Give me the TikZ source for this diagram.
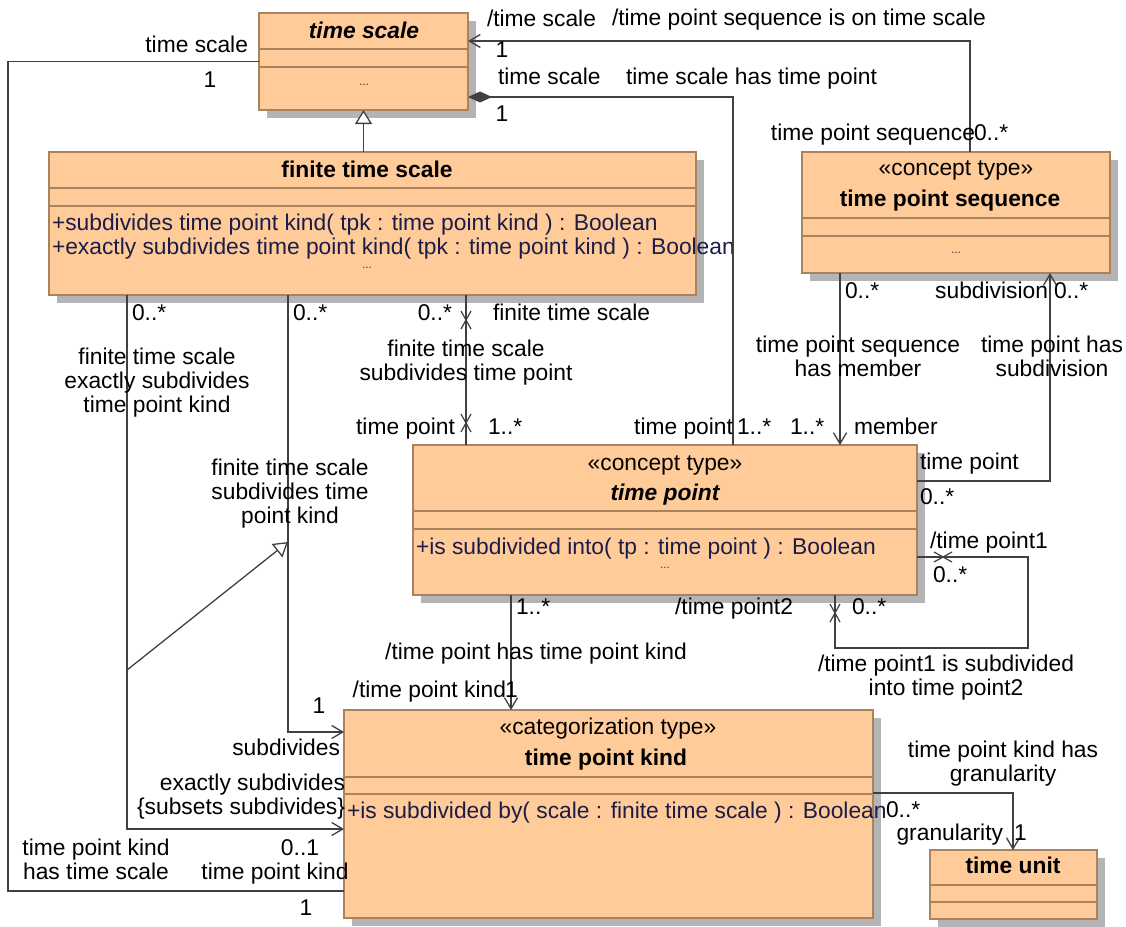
\documentclass[tikz,border=0pt]{standalone}
\usepackage{fontspec}
\setmainfont{Liberation Sans}
\usetikzlibrary{arrows.meta,shadows}
\definecolor{boxfill}{HTML}{FFCC99}
\definecolor{boxdraw}{HTML}{A8845E}
\definecolor{shadowc}{HTML}{B4B4B4}
\definecolor{linec}{HTML}{404040}
\definecolor{opc}{HTML}{1C1C48}
\newcommand{\fsz}{\fontsize{22.8}{24}\selectfont}
\begin{document}
\begin{tikzpicture}[x=1pt,y=-1pt,
  every node/.style={font=\fsz, inner sep=0pt, outer sep=0pt},
  cls/.style={draw=boxdraw, fill=boxfill, line width=1.5pt, anchor=north west,
    drop shadow={shadow xshift=8pt, shadow yshift=-8pt, fill=shadowc, opacity=1}},
  sepl/.style={draw=boxdraw, line width=1.5pt},
  lbl/.style={text height=15pt, text depth=1pt},
  ml/.style={align=center, anchor=north},
  optxt/.style={lbl, text=opc, anchor=west},
  dots/.style={font=\fontsize{12}{12}\selectfont, text=linec},
  assoc/.style={draw=linec, line width=1.3pt},
  nav/.style={assoc, -{Straight Barb[length=11pt,width=13pt]}},
  gen/.style={assoc, -{Triangle[open,length=14pt,width=17pt,fill=white]}},
  comp/.style={assoc, {Diamond[length=24pt,width=11pt,fill=linec]}-},
  xv/.pic={\draw[linec, line width=1.2pt] (-5pt,-9pt) -- (5pt,9pt) (-5pt,9pt) -- (5pt,-9pt);},
  xh/.pic={\draw[linec, line width=1.2pt] (-9pt,-5pt) -- (9pt,5pt) (-9pt,5pt) -- (9pt,-5pt);}
]
\useasboundingbox (0,0) rectangle (1126,926);

% ---------- classes ----------
\node[cls, minimum width=209pt, minimum height=97pt] (ts) at (259,13) {};
\draw[sepl] (259,49) -- (468,49) (259,67) -- (468,67);
\node[lbl, font=\fsz\bfseries\itshape] (tsT) at (364,31) {time scale};
\node[dots] (tsD) at (364,85) {...};

\node[cls, minimum width=647pt, minimum height=143pt] (fts) at (49,152) {};
\draw[sepl] (49,188) -- (696,188) (49,206) -- (696,206);
\node[lbl, font=\fsz\bfseries] (ftsT) at (367,170) {finite time scale};
\node[optxt] (ftsO1) at (52,223) {+subdivides time point kind( tpk : time point kind ) : Boolean};
\node[optxt] (ftsO2) at (52,247) {+exactly subdivides time point kind( tpk : time point kind ) : Boolean};
\node[dots] (ftsD) at (367,268) {...};

\node[cls, minimum width=308pt, minimum height=121pt] (tps) at (802,152) {};
\draw[sepl] (802,218) -- (1110,218) (802,236) -- (1110,236);
\node[lbl] (tpsS) at (956,168) {«concept type»};
\node[lbl, font=\fsz\bfseries] (tpsT) at (950,199) {time point sequence};
\node[dots] (tpsD) at (956,253) {...};

\node[cls, minimum width=504pt, minimum height=150pt] (tp) at (413,445) {};
\draw[sepl] (413,511) -- (917,511) (413,529) -- (917,529);
\node[lbl] (tpS) at (665,463) {«concept type»};
\node[lbl, font=\fsz\bfseries\itshape] (tpT) at (665,493) {time point};
\node[optxt] (tpO) at (416,547) {+is subdivided into( tp : time point ) : Boolean};
\node[dots] (tpD) at (665,568) {...};

\node[cls, minimum width=529pt, minimum height=208pt] (tpk) at (344,710) {};
\draw[sepl] (344,777) -- (873,777) (344,794) -- (873,794);
\node[lbl] (tpkS) at (608,727) {«categorization type»};
\node[lbl, font=\fsz\bfseries] (tpkT) at (606,758) {time point kind};
\node[optxt] (tpkO) at (347,811) {+is subdivided by( scale : finite time scale ) : Boolean};

\node[cls, minimum width=167pt, minimum height=69pt] (tu) at (930,850) {};
\draw[sepl] (930,885) -- (1097,885) (930,902) -- (1097,902);
\node[lbl, font=\fsz\bfseries] (tuT) at (1013,866) {time unit};

% ---------- connectors ----------
\draw[gen] (fts.north -| ts.south) -- (ts.south);
\draw[assoc] (ts.west) -| (8,891) -- (tpk.west |- 8,891);
\draw[nav] (tps.north -| 970,0) |- (ts.east |- 0,41);
\draw[comp] (ts.east |- 0,97) -| (tp.north -| 733,0);
\draw[assoc] (fts.south -| 466,0) -- (tp.north -| 466,0);
\pic at (466,320) {xv};
\pic at (466,423) {xv};
\draw[nav] (fts.south -| 288,0) |- (tpk.west |- 0,732);
\draw[nav] (fts.south -| 127,0) |- (tpk.west |- 0,829);
\coordinate (exa) at (127,670);
\coordinate (sub) at (288,542);
\draw[gen] (exa) -- (sub);
\draw[nav] (tp.south -| 511,0) -- (tpk.north -| 511,0);
\draw[nav] (tps.south -| 840,0) -- (tp.north -| 840,0);
\draw[nav] (tp.east |- 0,481) -| (tps.south -| 1050,0);
\draw[assoc] (tp.east |- 0,557) -| (1028,648) -| (tp.south -| 835,0);
\pic at (943,557) {xh};
\pic at (835,613) {xv};
\draw[nav] (tpk.east |- 0,793) -| (tu.north -| 1013,0);

% ---------- labels ----------
\node[lbl, anchor=east] (l1) at (248,45) {time scale};
\node[lbl] (l2) at (210,80) {1};
\node[lbl, anchor=west] (l3) at (487,20) {/time scale};
\node[lbl] (l4) at (502,50) {1};
\node[lbl, anchor=west] (l5) at (612,18) {/time point sequence is on time scale};
\node[lbl, anchor=west] (l6) at (498,77) {time scale};
\node[lbl, anchor=west] (l7) at (626,77) {time scale has time point};
\node[lbl] (l8) at (502,114) {1};
\node[lbl, anchor=east] (l9) at (975,133) {time point sequence};
\node[lbl, anchor=west] (l10) at (974,133) {0..*};

\node[lbl, anchor=west] (l11) at (132,313) {0..*};
\node[lbl, anchor=west] (l12) at (293,313) {0..*};
\node[lbl, anchor=east] (l13) at (452,313) {0..*};
\node[lbl, anchor=west] (l14) at (493,313) {finite time scale};
\node[ml] (l15) at (157,348) {finite time scale\\exactly subdivides\\time point kind};
\node[ml] (l16) at (466,340) {finite time scale\\subdivides time point};
\node[lbl, anchor=east] (l17) at (455,427) {time point};
\node[lbl, anchor=west] (l18) at (488,427) {1..*};
\node[lbl, anchor=east] (l19) at (733,427) {time point};
\node[lbl, anchor=west] (l20) at (737,427) {1..*};
\node[lbl, anchor=west] (l21) at (790,427) {1..*};
\node[lbl, anchor=west] (l22) at (854,427) {member};

\node[lbl, anchor=west] (l23) at (845,291) {0..*};
\node[lbl, anchor=east] (l24) at (1048,291) {subdivision};
\node[lbl, anchor=west] (l25) at (1054,291) {0..*};
\node[ml] (l26) at (858,336) {time point sequence\\has member};
\node[ml] (l27) at (1052,336) {time point has\\subdivision};
\node[ml] (l28) at (290,459) {finite time scale\\subdivides time\\point kind};
\node[lbl, anchor=west] (l29) at (920,462) {time point};
\node[lbl, anchor=west] (l30) at (920,497) {0..*};
\node[lbl, anchor=west] (l31) at (930,541) {/time point1};
\node[lbl, anchor=west] (l32) at (933,575) {0..*};
\node[lbl, anchor=east] (l33) at (793,607) {/time point2};
\node[lbl, anchor=west] (l34) at (852,607) {0..*};
\node[lbl, anchor=west] (l35) at (516,607) {1..*};
\node[lbl] (l36) at (536,652) {/time point has time point kind};
\node[ml] (l37) at (946,655) {/time point1 is subdivided\\into time point2};
\node[lbl, anchor=east] (l38) at (506,690) {/time point kind};
\node[lbl, anchor=west] (l39) at (505,690) {1};
\node[lbl] (l40) at (319,706) {1};
\node[lbl, anchor=east] (l41) at (340,748) {subdivides};
\node[ml] (l42) at (1003,741) {time point kind has\\granularity};
\node[align=right, anchor=north east] (l43) at (345,774) {exactly subdivides\\\{subsets subdivides\}};
\node[lbl, anchor=west] (l44) at (886,810) {0..*};
\node[lbl, anchor=east] (l45) at (1003,833) {granularity};
\node[lbl, anchor=west] (l46) at (1014,833) {1};
\node[ml] (l47) at (96,839) {time point kind\\has time scale};
\node[lbl] (l48) at (300,848) {0..1};
\node[lbl] (l49) at (275,872) {time point kind};
\node[lbl] (l50) at (306,908) {1};
\end{tikzpicture}
\end{document}
